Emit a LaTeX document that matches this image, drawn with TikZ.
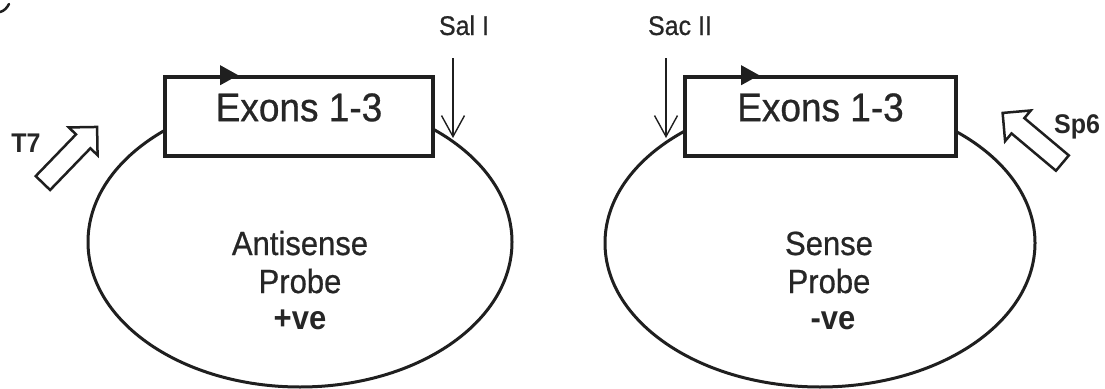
\documentclass[tikz,border=0pt]{standalone}
\usepackage{fontspec}
\setmainfont{Liberation Sans}
\newfontfamily\scanfont{Liberation Sans}[FakeBold=0.7]
\usetikzlibrary{arrows.meta,calc,shapes.geometric}

\newcommand{\tallish}[1]{\scalebox{1}[1.08]{#1}}

\begin{document}
\begin{tikzpicture}[x=1pt,y=-1pt,
  ink/.style={black!88},
  plasmid/.style={ellipse, draw=black!88, line width=3pt, minimum width=424pt, minimum height=290pt, inner sep=0pt},
  exonbox/.style={rectangle, draw=black!88, line width=3.6pt, fill=white, inner sep=0pt},
  exonlabel/.style={anchor=base, font=\scanfont\fontsize{37}{44}\selectfont, inner sep=0pt, text=black!85},
  probetext/.style={anchor=base, font=\scanfont\fontsize{31}{36}\selectfont, inner sep=0pt, text=black!85},
  probesign/.style={anchor=base, font=\fontsize{31}{36}\selectfont\bfseries, inner sep=0pt, text=black!85},
  sitetext/.style={anchor=base, font=\scanfont\fontsize{25}{30}\selectfont, inner sep=0pt, text=black!85},
  promtext/.style={anchor=base, font=\fontsize{25}{30}\selectfont\bfseries, inner sep=0pt, text=black!85},
  cutarrow/.style={draw=black!88, line width=1.4pt, -{Straight Barb[length=21pt,width=23pt]}},
  promoter/.style={draw=black!88, line width=2.5pt, fill=white, line join=miter},
]
\useasboundingbox (0,0) rectangle (1105,388);

% stray pen stroke in the corner
\draw[ink, line width=2.5pt, line cap=round] (0,12) .. controls (4,11) and (7,8) .. (9,4);

% ---------- left construct: antisense probe ----------
\node[plasmid] (plasL) at (300,242) {};
\node[exonbox, minimum width=268pt, minimum height=79pt] (boxL) at (299,116.5) {};
\node[exonlabel] (exL) at ($(boxL.north)+(0,46)$) {\tallish{Exons 1-3}};
\fill[ink] ($(boxL.north west)+(57,-10)$) -- ++(18,10) -- ++(-18,10) -- cycle;

\node[probetext] (antiL) at (300,255) {\tallish{Antisense}};
\node[probetext] (probeL) at (300,293) {\tallish{Probe}};
\node[probesign] (signL) at (300,329) {\tallish{+ve}};

\node[sitetext] (salI) at (464,35) {\tallish{Sal I}};
\coordinate (salTop) at (453,58);
\coordinate (salTip) at (453,138);
\draw[cutarrow] (salTop) -- (salTip);

\node[promtext] (tseven) at (26,152) {\tallish{T7}};
\begin{scope}[shift={(70,155)}, rotate=46]
  \draw[promoter] (-39,-10) -- (19,-10) -- (19,-20) -- (39,0) -- (19,20) -- (19,10) -- (-39,10) -- cycle;
\end{scope}

% ---------- right construct: sense probe ----------
\node[plasmid, minimum width=430pt, minimum height=288pt] (plasR) at (820,243) {};
\node[exonbox, minimum width=271pt, minimum height=79pt] (boxR) at (820.5,116.5) {};
\node[exonlabel] (exR) at ($(boxR.north)+(0,46)$) {\tallish{Exons 1-3}};
\fill[ink] ($(boxR.north west)+(58,-10)$) -- ++(18,10) -- ++(-18,10) -- cycle;

\node[probetext] (senseR) at (829,255) {\tallish{Sense}};
\node[probetext] (probeR) at (829,293) {\tallish{Probe}};
\node[probesign] (signR) at (833,329) {\tallish{-ve}};

\node[sitetext] (sacII) at (680,35) {\tallish{Sac II}};
\coordinate (sacTop) at (666,58);
\coordinate (sacTip) at (666,138);
\draw[cutarrow] (sacTop) -- (sacTip);

\node[promtext, anchor=base west] (spsix) at (1054,133) {\tallish{Sp6}};
\begin{scope}[shift={(1032.5,138)}, rotate=140]
  \draw[promoter] (-39,-10) -- (19,-10) -- (19,-20) -- (39,0) -- (19,20) -- (19,10) -- (-39,10) -- cycle;
\end{scope}
\end{tikzpicture}
\end{document}
